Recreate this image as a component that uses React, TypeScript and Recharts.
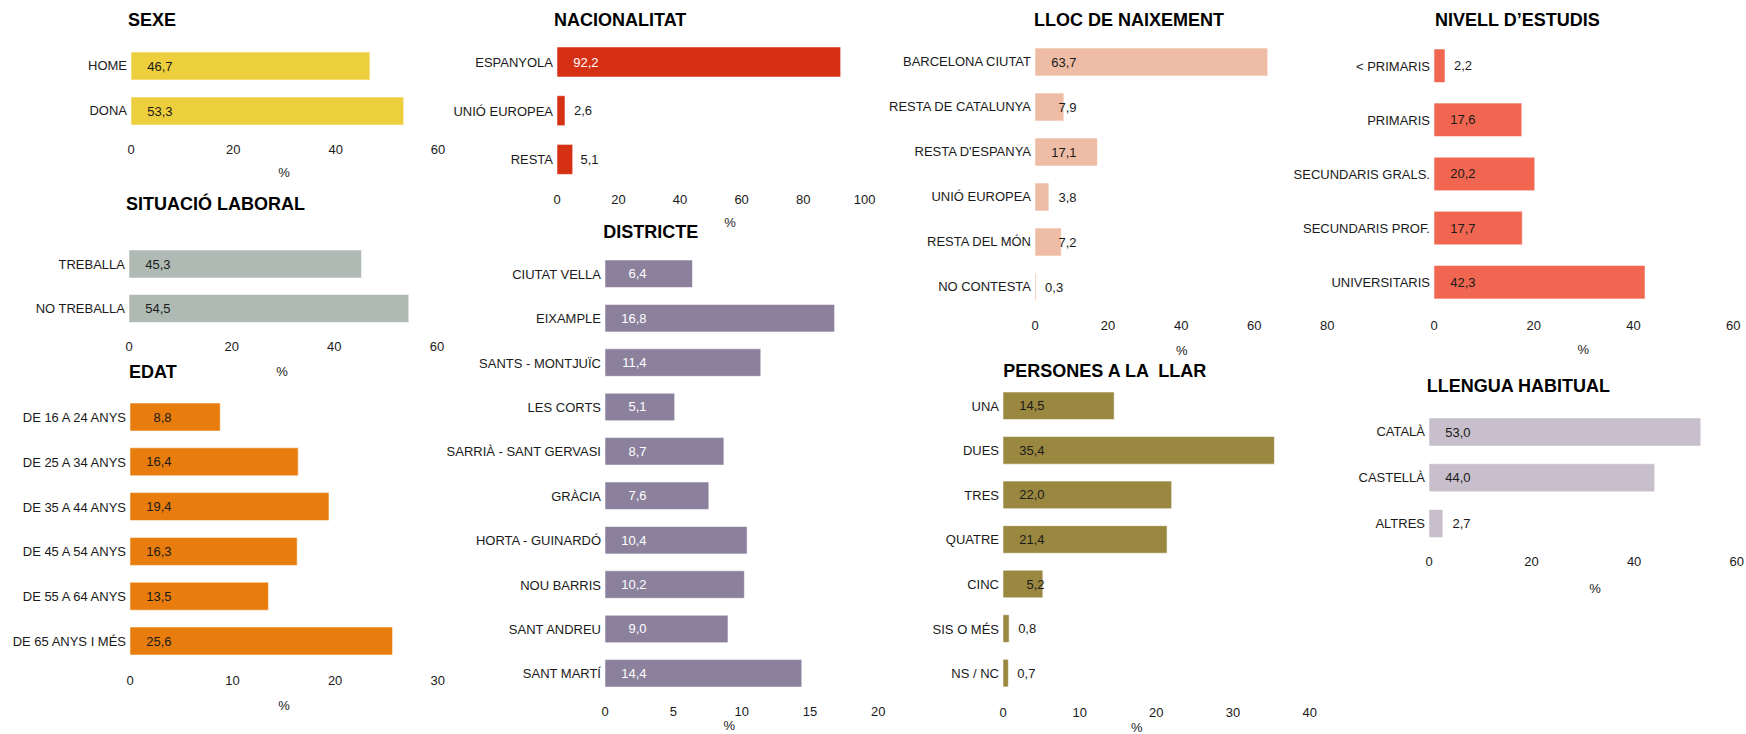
import React from 'react';
import { BarChart, Bar, XAxis, YAxis, LabelList } from 'recharts';

// ---- data ----
const sexeLabels = ['HOME', 'DONA'];
const sexeValues = [46.7, 53.3];
const sexeTicks = [0, 20, 40, 60];

const situacioLabels = ['TREBALLA', 'NO TREBALLA'];
const situacioValues = [45.3, 54.5];
const situacioTicks = [0, 20, 40, 60];

const edatLabels = ['DE 16 A 24 ANYS', 'DE 25 A 34 ANYS', 'DE 35 A 44 ANYS', 'DE 45 A 54 ANYS', 'DE 55 A 64 ANYS', 'DE 65 ANYS I MÉS'];
const edatValues = [8.8, 16.4, 19.4, 16.3, 13.5, 25.6];
const edatTicks = [0, 10, 20, 30];

const nacionalitatLabels = ['ESPANYOLA', 'UNIÓ EUROPEA', 'RESTA'];
const nacionalitatValues = [92.2, 2.6, 5.1];
const nacionalitatTicks = [0, 20, 40, 60, 80, 100];

const districteLabels = ['CIUTAT VELLA', 'EIXAMPLE', 'SANTS - MONTJUÏC', 'LES CORTS', 'SARRIÀ - SANT GERVASI', 'GRÀCIA', 'HORTA - GUINARDÓ', 'NOU BARRIS', 'SANT ANDREU', 'SANT MARTÍ'];
const districteValues = [6.4, 16.8, 11.4, 5.1, 8.7, 7.6, 10.4, 10.2, 9.0, 14.4];
const districteTicks = [0, 5, 10, 15, 20];

const llocLabels = ['BARCELONA CIUTAT', 'RESTA DE CATALUNYA', "RESTA D'ESPANYA", 'UNIÓ EUROPEA', 'RESTA DEL MÓN', 'NO CONTESTA'];
const llocValues = [63.7, 7.9, 17.1, 3.8, 7.2, 0.3];
const llocTicks = [0, 20, 40, 60, 80];

const personesLabels = ['UNA', 'DUES', 'TRES', 'QUATRE', 'CINC', 'SIS O MÉS', 'NS / NC'];
const personesValues = [14.5, 35.4, 22.0, 21.4, 5.2, 0.8, 0.7];
const personesTicks = [0, 10, 20, 30, 40];

const nivellLabels = ['< PRIMARIS', 'PRIMARIS', 'SECUNDARIS GRALS.', 'SECUNDARIS PROF.', 'UNIVERSITARIS'];
const nivellValues = [2.2, 17.6, 20.2, 17.7, 42.3];
const nivellTicks = [0, 20, 40, 60];

const llenguaLabels = ['CATALÀ', 'CASTELLÀ', 'ALTRES'];
const llenguaValues = [53.0, 44.0, 2.7];
const llenguaTicks = [0, 20, 40, 60];

const FONT = '"Liberation Sans", Arial, sans-serif';
const DARK = '#1a1a1a';
const FS = 13;
const LW = 200; // room for category labels
const XH = 40;
const MR = 20;

const fmt = (v: number) => v.toFixed(1).replace('.', ',');

const makeLabel = (insideColor: string) => (props: any) => {
  const x = Number(props.x);
  const y = Number(props.y);
  const w = Number(props.width);
  const h = Number(props.height);
  const txt = fmt(Number(props.value));
  const tw = txt.replace(',', '').length * 7.23 + 3.6;
  if (w < 12) {
    return (
      <text x={x + w + 9} y={y + h / 2} dy="0.35em" textAnchor="start" fontSize={FS} fontFamily={FONT} fill={DARK}>
        {txt}
      </text>
    );
  }
  const end = x + 41.5;
  const color = end - tw > x + w ? DARK : insideColor;
  return (
    <text x={end} y={y + h / 2} dy="0.35em" textAnchor="end" fontSize={FS} fontFamily={FONT} fill={color}>
      {txt}
    </text>
  );
};

const CatTick = (props: any) => (
  <text x={props.x} y={props.y} dy="0.35em" textAnchor="end" fontSize={FS} fontFamily={FONT} fill={DARK}>
    {props.payload.value}
  </text>
);

const NumTick = (props: any) => (
  <text x={props.x} y={props.y} dy="0.71em" textAnchor="middle" fontSize={FS} fontFamily={FONT} fill={DARK}>
    {props.payload.value}
  </text>
);

interface PanelProps {
  title: string;
  labels: string[];
  values: number[];
  ticks: number[];
  color: string;
  insideText?: string;
  x0: number;
  x1: number;
  top: number;
  band: number;
  barSize: number;
  tickY: number;
  titleX: number;
  titleY: number;
  pctX: number;
  pctY: number;
}

const Panel: React.FC<PanelProps> = (p) => {
  const data = p.labels.map((name, i) => ({ name, value: p.values[i] }));
  const plotW = p.x1 - p.x0;
  const plotH = p.band * p.labels.length;
  const width = LW + plotW + MR;
  const height = plotH + XH;
  const tickMargin = p.tickY - 4.7 - (p.top + plotH);
  return (
    <>
      <div style={{ position: 'absolute', left: p.titleX, top: p.titleY - 9, fontSize: 18, lineHeight: '18px', fontWeight: 'bold', fontFamily: FONT, color: '#000', whiteSpace: 'pre' }}>
        {p.title}
      </div>
      <div style={{ position: 'absolute', left: p.pctX, top: p.pctY - 7, fontSize: FS, lineHeight: '13px', fontFamily: FONT, color: DARK, transform: 'translateX(-50%)' }}>
        %
      </div>
      <div style={{ position: 'absolute', left: p.x0 - LW, top: p.top }}>
        <BarChart width={width} height={height} data={data} layout="vertical" margin={{ top: 0, right: MR, left: 0, bottom: 0 }}>
          <XAxis
            type="number"
            domain={[0, p.ticks[p.ticks.length - 1]]}
            ticks={p.ticks}
            interval={0}
            axisLine={false}
            tickLine={false}
            tickSize={0}
            tickMargin={tickMargin}
            height={XH}
            tick={<NumTick />}
          />
          <YAxis
            type="category"
            dataKey="name"
            width={LW}
            axisLine={false}
            tickLine={false}
            tickSize={0}
            tickMargin={4}
            interval={0}
            tick={<CatTick />}
          />
          <Bar dataKey="value" fill={p.color} stroke="rgba(255,255,255,0.55)" strokeWidth={1} barSize={p.barSize} isAnimationActive={false}>
            <LabelList dataKey="value" content={makeLabel(p.insideText || DARK)} />
          </Bar>
        </BarChart>
      </div>
    </>
  );
};

export default function App() {
  return (
    <div style={{ position: 'absolute', left: 0, top: 0, width: 1746, height: 734, overflow: 'hidden', background: '#fff' }}>
      <Panel title="SEXE" labels={sexeLabels} values={sexeValues} ticks={sexeTicks} color="#EDCF3E"
        x0={130.7} x1={437.7} top={42.5} band={45} barSize={28} tickY={149} titleX={128} titleY={20} pctX={284} pctY={173} />
      <Panel title="SITUACIÓ LABORAL" labels={situacioLabels} values={situacioValues} ticks={situacioTicks} color="#AEBAB3"
        x0={128.7} x1={436.7} top={241.6} band={44.5} barSize={28} tickY={346} titleX={126} titleY={204} pctX={282} pctY={371.7} />
      <Panel title="EDAT" labels={edatLabels} values={edatValues} ticks={edatTicks} color="#E87D0E"
        x0={130} x1={437.7} top={395.3} band={44.8} barSize={28} tickY={680.7} titleX={129} titleY={371.7} pctX={284} pctY={706} />
      <Panel title="NACIONALITAT" labels={nacionalitatLabels} values={nacionalitatValues} ticks={nacionalitatTicks} color="#D63014" insideText="#ffffff"
        x0={557.3} x1={865} top={37.5} band={48.7} barSize={30} tickY={199.3} titleX={554} titleY={20} pctX={730} pctY={223} />
      <Panel title="DISTRICTE" labels={districteLabels} values={districteValues} ticks={districteTicks} color="#8B819C" insideText="#ffffff"
        x0={605} x1={878.3} top={251.5} band={44.4} barSize={27.5} tickY={711} titleX={603.3} titleY={231.7} pctX={729.3} pctY={726} />
      <Panel title="LLOC DE NAIXEMENT" labels={llocLabels} values={llocValues} ticks={llocTicks} color="#EFBDA6"
        x0={1035} x1={1327.3} top={39.2} band={45} barSize={28} tickY={325.7} titleX={1034} titleY={20} pctX={1181.7} pctY={351} />
      <Panel title="PERSONES A LA  LLAR" labels={personesLabels} values={personesValues} ticks={personesTicks} color="#9A8840"
        x0={1003.3} x1={1310} top={384.2} band={44.55} barSize={27.6} tickY={712.3} titleX={1003.3} titleY={370.7} pctX={1136.7} pctY={727.7} />
      <Panel title="NIVELL D’ESTUDIS" labels={nivellLabels} values={nivellValues} ticks={nivellTicks} color="#F06650"
        x0={1434} x1={1733.3} top={38.8} band={54.1} barSize={33.5} tickY={325.7} titleX={1435} titleY={20} pctX={1583.3} pctY={350} />
      <Panel title="LLENGUA HABITUAL" labels={llenguaLabels} values={llenguaValues} ticks={llenguaTicks} color="#C7BFCB"
        x0={1429} x1={1736.7} top={408.8} band={45.75} barSize={28} tickY={561.7} titleX={1426.7} titleY={385.7} pctX={1595} pctY={589.3} />
    </div>
  );
}
